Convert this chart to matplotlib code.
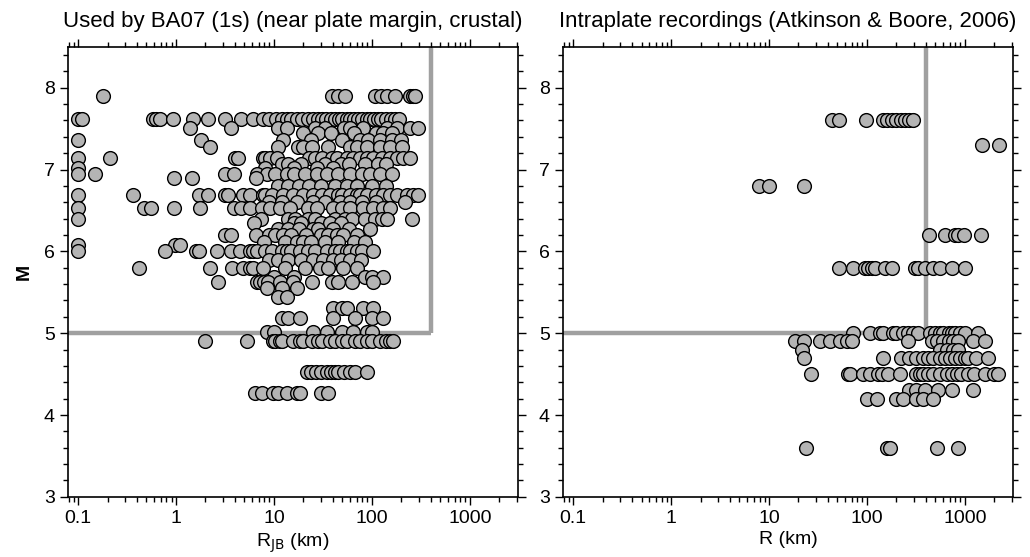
import numpy as np
import matplotlib
matplotlib.use("Agg")
import matplotlib.pyplot as plt
from matplotlib.ticker import LogLocator, MultipleLocator, FixedLocator, NullFormatter

plt.rcParams['font.family'] = ['Liberation Sans', 'DejaVu Sans']

# BA07 (1s) records: magnitude levels and the distances (km) read at each level
ba07_m_levels = [7.9, 7.62, 7.51, 7.45, 7.36, 7.27, 7.14, 7.07, 7.02, 6.94, 6.9, 6.8,
                 6.69, 6.6, 6.53, 6.4, 6.35, 6.27, 6.2, 6.12, 6.08, 6.0, 5.9, 5.8,
                 5.69, 5.63, 5.55, 5.44, 5.31, 5.19, 5.02, 4.9, 4.53, 4.27]
ba07_r_rows = [
    [0.18, 39, 45, 53, 107, 125, 142, 171, 245, 262, 275],
    [0.1, 0.11, 0.58, 0.63, 0.68, 0.93, 1.5, 2.1, 3.2, 4.6, 6.1, 7.7, 9, 10.5, 12, 13.5,
     15, 17, 19.5, 22, 25, 28, 31, 34, 38, 42, 46, 50, 55, 60, 66, 72, 80, 88, 95, 105,
     115, 125, 140, 155, 170, 190],
    [1.4, 3.6, 11, 13.5, 26, 33, 52, 60, 81, 142, 180, 245, 295],
    [20, 28, 38, 65, 110, 130, 160],
    [0.1, 1.8, 12.3, 24, 50, 75, 91, 120, 160, 200],
    [2.2, 11, 17.5, 20, 24.5, 35.6, 60, 70, 89, 120, 152, 202],
    [0.1, 0.21, 4, 4.3, 7.7, 8.1, 9.1, 10.7, 23, 26, 31, 39, 44, 55, 64, 75, 89, 102,
     126, 152, 180, 207, 245],
    [12, 14, 19, 33, 48, 58, 85, 115, 140],
    [0.1, 8.1, 16, 27.5, 40],
    [0.1, 0.15, 3.2, 3.9, 6.7, 8.5, 10.2, 13.5, 16, 20.7, 27.5, 35, 45, 60, 79, 95, 120, 160],
    [0.95, 1.45, 6.6],
    [11, 14, 18, 23, 30, 42, 55, 70, 100, 140],
    [0.1, 0.36, 1.7, 2.1, 3.2, 3.4, 4.8, 5.7, 7.7, 8.1, 9.5, 12.3, 15.6, 19.8, 25, 31,
     37, 45, 50, 60, 70, 75, 90, 110, 130, 152, 180, 227, 262, 295],
    [9, 12, 17, 25, 33, 47, 60, 80, 110, 215],
    [0.1, 0.47, 0.56, 0.95, 1.76, 3.9, 4.6, 5.7, 7.5, 9.1, 11.5, 14.6, 22, 27.5, 40, 49,
     59.6, 81, 102, 130, 152],
    [0.1, 7.4, 13.9, 16.4, 22, 26, 42, 53, 62.5, 85, 107, 126, 142, 256],
    [6.2, 16, 19, 30, 37, 48],
    [11, 14, 18, 25, 28, 40, 58, 95],
    [3.2, 3.6, 6.6, 9, 10.2, 12.3, 15, 21, 30, 35.6, 44, 50.5, 70],
    [8, 13, 17, 20, 24, 33, 45, 65, 85],
    [0.1, 0.98, 1.1],
    [0.1, 0.77, 1.6, 1.7, 2.6, 3.6, 4.5, 5.7, 6.1, 6.7, 8.1, 9.5, 12, 13.5, 15, 18.5,
     22, 26, 35, 42, 47, 55, 60, 70, 80, 102],
    [9, 11, 14, 19, 25, 32, 40, 48, 60, 77],
    [0.42, 2.2, 3.7, 4.8, 5.7, 6.1, 7.7, 13, 20.7, 29.5, 35.6, 50.5, 70],
    [10, 16, 85, 100, 130],
    [2.7, 6.7, 7.2, 8, 8.7, 11.5, 15.6, 24.5, 39, 45, 62.5, 102],
    [8.5, 12, 17],
    [11, 13.5],
    [40, 50, 55, 81, 102],
    [12, 14, 18.5, 40, 67, 100, 130],
    [8.5, 10, 25, 35, 50, 64, 89, 100],
    [2.0, 5.3, 9.8, 10.2, 11.5, 12, 15.6, 18.5, 20, 24.5, 28, 31, 37, 42, 49, 55, 67,
     75, 89, 100, 120, 140, 152, 164],
    [21.7, 24, 27, 30, 35, 38, 42, 45, 52, 60, 67, 90],
    [6.4, 7.5, 9.8, 11, 13.5, 17, 18.5, 30, 36],
]

# Atkinson & Boore (2006) intraplate recordings
ab06_m_levels = [7.6, 7.3, 6.8, 6.2, 5.8, 5.0, 4.9, 4.8, 4.7, 4.5, 4.3, 4.2, 3.6]
ab06_r_rows = [
    [44, 52, 98, 145, 160, 180, 200, 220, 245, 270, 295],
    [1480, 2200],
    [7.9, 10, 22.8],
    [430, 620, 790, 850, 980, 1450],
    [52, 72, 95, 102, 112, 121, 153, 180, 310, 330, 390, 470, 560, 730, 1000],
    [72, 107, 135, 146, 184, 200, 233, 262, 294, 330, 440, 500, 560, 600, 680, 730,
     790, 880, 1000, 1350],
    [18.4, 23, 33, 42, 53, 62, 70, 262, 460, 520, 600, 680, 760, 850, 1200, 1600],
    [21.7, 560, 650, 750, 850],
    [23, 146, 225, 270, 320, 370, 420, 470, 560, 620, 700, 790, 880, 1000, 1070, 1300, 1700],
    [27, 64, 67, 91, 107, 130, 142, 165, 215, 320, 345, 370, 420, 470, 560, 650, 730,
     820, 920, 1070, 1250, 1600, 2000, 2150],
    [270, 320, 390, 530, 730, 1200],
    [100, 126, 200, 233, 320, 370, 470],
    [24, 160, 170, 520, 850],
]

titles = ["Used by BA07 (1s) (near plate margin, crustal)",
          "Intraplate recordings (Atkinson & Boore, 2006)"]
xlabels = ["R$_{\\mathrm{JB}}$ (km)", "R (km)"]
r_cut = 400
m_cut = 5

fig = plt.figure(figsize=(10.3, 5.57), dpi=100)
ax1 = fig.add_axes([0.066, 0.108, 0.437, 0.808])
ax2 = fig.add_axes([0.5466, 0.108, 0.437, 0.808])

panels = [(ax1, ba07_m_levels, ba07_r_rows), (ax2, ab06_m_levels, ab06_r_rows)]
for i, (ax, levels, rows) in enumerate(panels):
    r = np.concatenate([np.array(row, float) for row in rows])
    m = np.concatenate([np.full(len(row), lev) for lev, row in zip(levels, rows)])
    ax.set_xscale('log')
    ax.set_xlim(0.079, 3100)
    ax.set_ylim(3, 8.5)
    # cutoff lines
    ax.plot([0.079, r_cut], [m_cut, m_cut], color='#a0a0a0', lw=3.2, zorder=1,
            solid_capstyle='butt')
    ax.plot([r_cut, r_cut], [m_cut, 8.5], color='#a0a0a0', lw=3.2, zorder=1,
            solid_capstyle='butt')
    ax.scatter(r, m, s=98, facecolor='#b4b4b4', edgecolor='black', linewidth=1.0,
               zorder=3)
    ax.set_title(titles[i], fontsize=16, pad=14)
    ax.set_xlabel(xlabels[i], fontsize=14, labelpad=3)
    ax.xaxis.set_major_locator(FixedLocator([0.1, 1, 10, 100, 1000]))
    ax.set_xticklabels(["0.1", "1", "10", "100", "1000"])
    ax.xaxis.set_minor_locator(LogLocator(base=10, subs=np.arange(2, 10), numticks=20))
    ax.xaxis.set_minor_formatter(NullFormatter())
    ax.yaxis.set_major_locator(MultipleLocator(1))
    ax.yaxis.set_minor_locator(MultipleLocator(0.2))
    ax.tick_params(which='both', direction='out', top=True, right=True,
                   labelsize=14, width=1.0, color='black')
    ax.tick_params(which='major', length=6)
    ax.tick_params(which='minor', length=3.5)
    for sp in ax.spines.values():
        sp.set_linewidth(1.2)

ax1.set_ylabel("M", fontsize=14, fontweight='bold', labelpad=8)

fig.savefig("out.png", dpi=100)
